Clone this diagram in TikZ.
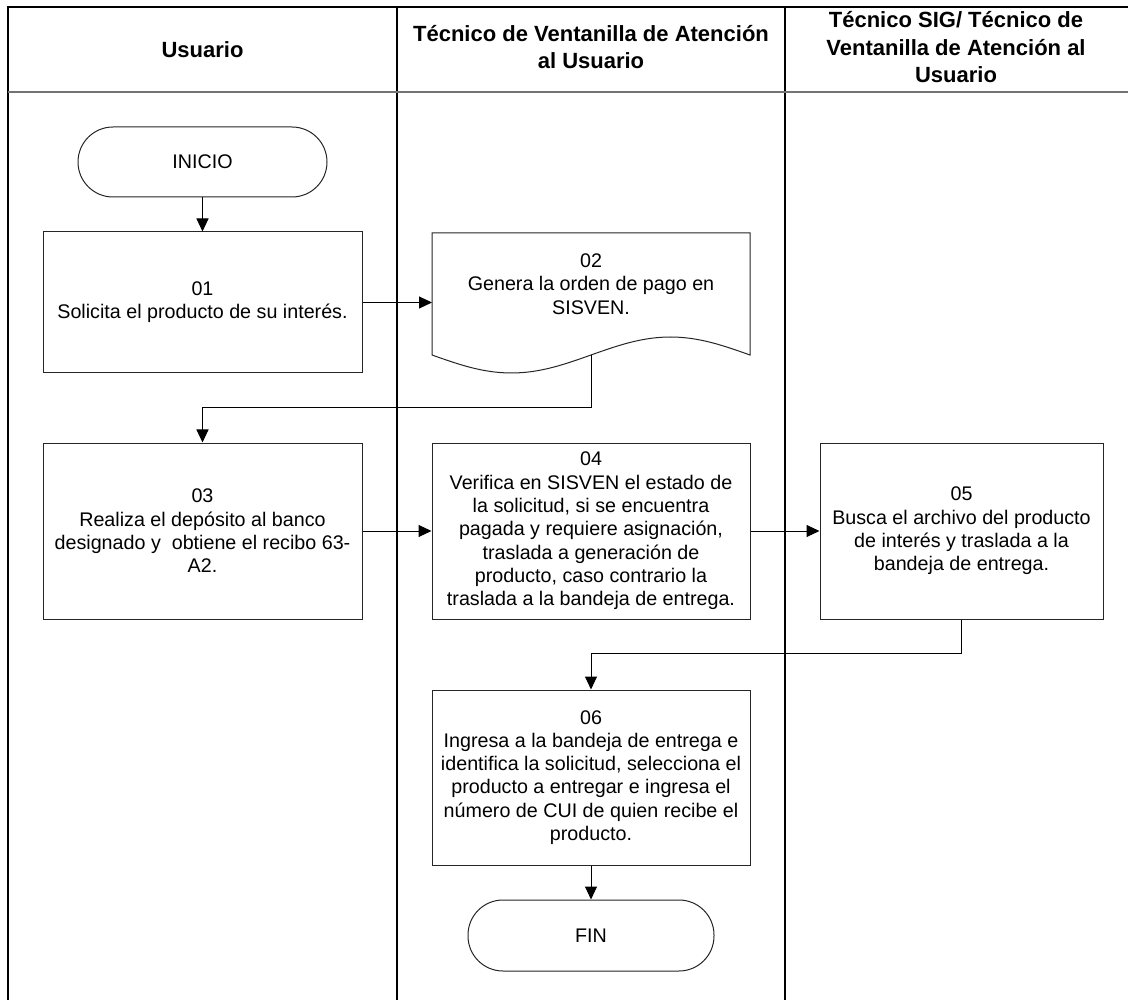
\documentclass[tikz,border=0pt]{standalone}
\usepackage{fontspec}
\setmainfont{Liberation Sans}
\usetikzlibrary{arrows.meta}
\begin{document}
\begin{tikzpicture}[x=1pt,y=-1pt,
  lane/.style={line width=1.6pt, black},
  headsep/.style={line width=2pt, black!55},
  head/.style={font=\fontsize{22}{27.5}\selectfont\bfseries, align=center},
  body/.style={font=\fontsize{19.7}{23.3}\selectfont, align=center},
  stepbox/.style={body, draw=black!85, line width=1pt, inner sep=0pt},
  term/.style={body, draw=black!85, line width=1pt, rounded corners=35pt, inner sep=0pt},
  flow/.style={line width=1pt, -{Triangle[length=13pt,width=12pt]}}]

\useasboundingbox (0,0) rectangle (1128,1000);
\fill[white] (0,0) rectangle (1128,1000);

% swimlane frame and header row
\draw[lane] (1128,7) -- (8,7) -- (8,1000);
\draw[lane] (397,7) -- (397,1000);
\draw[lane] (785,7) -- (785,1000);
\draw[headsep] (8,92) -- (1128,92);

\node[head] (h1) at (202.5,49.5) {Usuario};
\node[head] (h2) at (591,47) {Técnico de Ventanilla de Atención\\al Usuario};
\node[head] (h3) at (956,47.5) {Técnico SIG/ Técnico de\\Ventanilla de Atención al\\Usuario};

% start / end terminals
\node[term, minimum width=249pt, minimum height=70pt] (inicio) at (202.5,162) {INICIO};
\node[term, minimum width=246pt, minimum height=71pt] (fin) at (591,935.5) {FIN};

% process steps
\node[stepbox, minimum width=319pt, minimum height=141pt] (s01) at (202.5,302.5)
  {01\\Solicita el producto de su interés.};

% document shape for step 02
\coordinate (d02nw) at (432,233);
\coordinate (d02out) at (591,355);
\draw[draw=black!85, line width=1pt] (432,355) -- (d02nw) -- (750,233) -- (750,355)
  sin (670.5,337) cos (d02out) sin (511.5,373) cos (432,355) -- cycle;
\node[body] (s02) at (591,284) {02\\Genera la orden de pago en\\SISVEN.};

\node[stepbox, minimum width=319pt, minimum height=176pt] (s03) at (202.5,531)
  {03\\Realiza el depósito al banco\\designado y \ obtiene el recibo 63-\\A2.};
\node[stepbox, minimum width=318pt, minimum height=176pt] (s04) at (591,531)
  {04\\Verifica en SISVEN el estado de\\la solicitud, si se encuentra\\pagada y requiere asignación,\\traslada a generación de\\producto, caso contrario la\\traslada a la bandeja de entrega.};
\node[stepbox, minimum width=283pt, minimum height=176pt] (s05) at (961.5,531)
  {05\\Busca el archivo del producto\\de interés y traslada a la\\bandeja de entrega.};
\node[stepbox, minimum width=318pt, minimum height=175pt] (s06) at (591,777.5)
  {06\\Ingresa a la bandeja de entrega e\\identifica la solicitud, selecciona el\\producto a entregar e ingresa el\\número de CUI de quien recibe el\\producto.};

% connectors
\draw[flow] (inicio) -- (s01);
\draw[flow] (s01.east) -- (s01.east -| d02nw);
\draw[flow] (d02out) -- ++(0,53) -| (s03.north);
\draw[flow] (s03) -- (s04);
\draw[flow] (s04) -- (s05);
\draw[flow] (s05.south) -- ++(0,34) -| (s06.north);
\draw[flow] (s06) -- (fin);
\end{tikzpicture}
\end{document}
